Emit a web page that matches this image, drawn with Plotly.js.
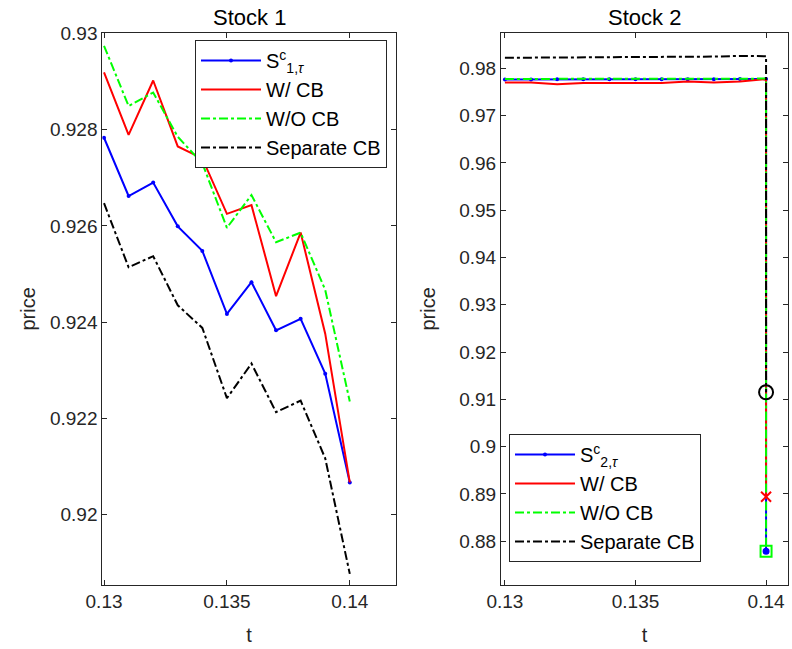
<!DOCTYPE html>
<html>
<head>
<meta charset="utf-8">
<script src="https://cdn.plot.ly/plotly-3.0.1.min.js"></script>
<style>
  html, body { margin: 0; padding: 0; background: #fff; }
  #chart { width: 792px; height: 649px; }
</style>
</head>
<body>
<div id="chart"></div>
<script>
// Time grid shared by both stocks
const t = [0.130, 0.131, 0.132, 0.133, 0.134, 0.135, 0.136, 0.137, 0.138, 0.139, 0.140];

// Stock 1 price paths
const s1Clean    = [0.92783, 0.92662, 0.92690, 0.92599, 0.92548, 0.92417, 0.92483, 0.92383, 0.92407, 0.92293, 0.92067];
const s1WithCB   = [0.92919, 0.92789, 0.92902, 0.92765, 0.92740, 0.92625, 0.92643, 0.92454, 0.92586, 0.92376, 0.92067];
const s1NoCB     = [0.92974, 0.92849, 0.92877, 0.92785, 0.92730, 0.92596, 0.92664, 0.92566, 0.92586, 0.92467, 0.92235];
const s1Separate = [0.92647, 0.92514, 0.92537, 0.92435, 0.92388, 0.92242, 0.92314, 0.92213, 0.92237, 0.92117, 0.91877];

// Stock 2 price paths (last entry is the jump at t = 0.14)
const t2 = [0.130, 0.131, 0.132, 0.133, 0.134, 0.135, 0.136, 0.137, 0.138, 0.139, 0.140, 0.140];
const s2Clean    = [0.97765, 0.97765, 0.97766, 0.97767, 0.97767, 0.97768, 0.97768, 0.97769, 0.97770, 0.97772, 0.97775, 0.8779];
const s2WithCB   = [0.97700, 0.97698, 0.97662, 0.97690, 0.97688, 0.97695, 0.97690, 0.97720, 0.97700, 0.97720, 0.97770, 0.8894];
const s2NoCB     = [0.97775, 0.97775, 0.97776, 0.97777, 0.97777, 0.97778, 0.97778, 0.97779, 0.97780, 0.97781, 0.97782, 0.8779];
const s2Separate = [0.98222, 0.98224, 0.98226, 0.98228, 0.98230, 0.98232, 0.98236, 0.98240, 0.98248, 0.98262, 0.98255, 0.9115];

const labels1 = ['S<sup>c</sup><sub>1,<i>τ</i></sub>', 'W/ CB', 'W/O CB', 'Separate CB'];
const labels2 = ['S<sup>c</sup><sub>2,<i>τ</i></sub>', 'W/ CB', 'W/O CB', 'Separate CB'];

const BLUE = '#0000ff', RED = '#ff0000', GREEN = '#00ff00', BLACK = '#000000';
const INK = '#262626';
const FONT = 'Liberation Sans, Arial, Helvetica, sans-serif';

function series(x, y, name, color, dash, xa, ya, legend, withDots) {
  const tr = {
    x: x, y: y, name: name, type: 'scatter',
    mode: withDots ? 'lines+markers' : 'lines',
    line: {color: color, width: 2, dash: dash},
    xaxis: xa, yaxis: ya, legend: legend
  };
  if (withDots) tr.marker = {color: color, size: 4};
  return tr;
}

function endMarker(x, y, color, symbol, size, xa, ya) {
  return {
    x: [x], y: [y], type: 'scatter', mode: 'markers', showlegend: false,
    marker: {color: color, symbol: symbol, size: size, line: {color: color, width: 2}},
    xaxis: xa, yaxis: ya
  };
}

const last = t2.length - 1;
const traces = [
  series(t, s1Clean,    labels1[0], BLUE,  'solid',   'x',  'y',  'legend',  true),
  series(t, s1WithCB,   labels1[1], RED,   'solid',   'x',  'y',  'legend',  false),
  series(t, s1NoCB,     labels1[2], GREEN, 'dashdot', 'x',  'y',  'legend',  false),
  series(t, s1Separate, labels1[3], BLACK, 'dashdot', 'x',  'y',  'legend',  false),

  series(t2, s2Clean,    labels2[0], BLUE,  'solid',   'x2', 'y2', 'legend2', true),
  series(t2, s2WithCB,   labels2[1], RED,   'solid',   'x2', 'y2', 'legend2', false),
  series(t2, s2NoCB,     labels2[2], GREEN, 'dashdot', 'x2', 'y2', 'legend2', false),
  series(t2, s2Separate, labels2[3], BLACK, 'dashdot', 'x2', 'y2', 'legend2', false),

  // jump end points for stock 2
  endMarker(t2[last], s2NoCB[last],     GREEN, 'square-open', 11, 'x2', 'y2'),
  endMarker(t2[last], s2Clean[last],    BLUE,  'circle',       5, 'x2', 'y2'),
  endMarker(t2[last], s2WithCB[last],   RED,   'x-thin-open', 10, 'x2', 'y2'),
  endMarker(t2[last], s2Separate[last], BLACK, 'circle-open', 14, 'x2', 'y2')
];

const W = 792, H = 649;
function axisCommon() {
  return {
    showline: true, mirror: 'ticks', linecolor: INK, linewidth: 1,
    ticks: 'inside', ticklen: 5, tickcolor: INK, tickwidth: 1,
    showgrid: false, zeroline: false,
    tickfont: {family: FONT, size: 19, color: INK}
  };
}

const legendStyle = {
  xanchor: 'left', yanchor: 'top',
  bgcolor: '#fff', bordercolor: INK, borderwidth: 1,
  font: {family: FONT, size: 20, color: '#000'},
  itemwidth: 60, tracegroupgap: 0
};

const layout = {
  width: W, height: H,
  margin: {l: 0, r: 0, t: 0, b: 0},
  paper_bgcolor: '#fff', plot_bgcolor: '#fff',
  font: {family: FONT, color: INK},
  showlegend: true,
  xaxis: Object.assign(axisCommon(), {
    domain: [102.3 / W, 396 / W], range: [0.12993, 0.14188],
    tickvals: [0.13, 0.135, 0.14], ticktext: ['0.13', '0.135', '0.14'],
    title: {text: 't', font: {family: FONT, size: 20, color: INK}, standoff: 16},
    anchor: 'y'
  }),
  yaxis: Object.assign(axisCommon(), {
    domain: [1 - 584.5 / H, 1 - 33.3 / H], range: [0.91855, 0.93],
    tickvals: [0.92, 0.922, 0.924, 0.926, 0.928, 0.93],
    ticktext: ['0.92', '0.922', '0.924', '0.926', '0.928', '0.93'],
    title: {text: 'price', font: {family: FONT, size: 20, color: INK}, standoff: 8},
    anchor: 'x'
  }),
  xaxis2: Object.assign(axisCommon(), {
    domain: [501 / W, 788 / W], range: [0.12985, 0.14084],
    tickvals: [0.13, 0.135, 0.14], ticktext: ['0.13', '0.135', '0.14'],
    title: {text: 't', font: {family: FONT, size: 20, color: INK}, standoff: 16},
    anchor: 'y2'
  }),
  yaxis2: Object.assign(axisCommon(), {
    domain: [1 - 584.5 / H, 1 - 33.3 / H], range: [0.87085, 0.9874],
    tickvals: [0.88, 0.89, 0.9, 0.91, 0.92, 0.93, 0.94, 0.95, 0.96, 0.97, 0.98],
    ticktext: ['0.88', '0.89', '0.9', '0.91', '0.92', '0.93', '0.94', '0.95', '0.96', '0.97', '0.98'],
    title: {text: 'price', font: {family: FONT, size: 20, color: INK}, standoff: 18},
    anchor: 'x2'
  }),
  legend: Object.assign({x: 195 / W, y: 1 - 40 / H}, legendStyle),
  legend2: Object.assign({x: 509 / W, y: 1 - 434 / H}, legendStyle),
  annotations: [
    {text: 'Stock 1', x: (102.3 + 396) / 2 / W, y: 1 - 18 / H, xref: 'paper', yref: 'paper',
     xanchor: 'center', yanchor: 'middle',
     showarrow: false, font: {family: FONT, size: 22, color: '#000'}},
    {text: 'Stock 2', x: (501 + 788) / 2 / W, y: 1 - 18 / H, xref: 'paper', yref: 'paper',
     xanchor: 'center', yanchor: 'middle',
     showarrow: false, font: {family: FONT, size: 22, color: '#000'}}
  ]
};

Plotly.newPlot('chart', traces, layout, {displayModeBar: false, staticPlot: true});
</script>
</body>
</html>
